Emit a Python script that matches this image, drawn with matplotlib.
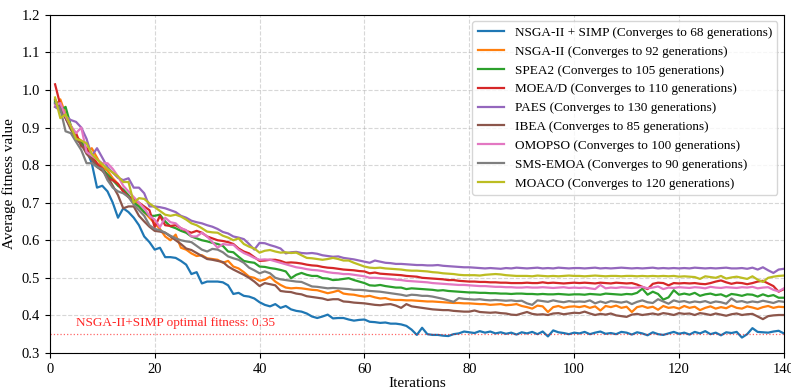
import numpy as np
import matplotlib
matplotlib.use("Agg")
import matplotlib.pyplot as plt

plt.rcParams['font.family'] = ['Liberation Serif', 'DejaVu Serif']

# iterations 1..140
iterations = list(range(1, 141))

nsga2_simp = [
    0.965, 0.945, 0.93, 0.90, 0.875, 0.855, 0.84, 0.805, 0.74, 0.745,
    0.73, 0.70, 0.66, 0.685, 0.675, 0.66, 0.64, 0.61, 0.595, 0.575,
    0.58, 0.555, 0.555, 0.553, 0.545, 0.535, 0.51, 0.515, 0.485, 0.49,
    0.49, 0.49, 0.488, 0.48, 0.457, 0.46, 0.452, 0.45, 0.445, 0.435,
    0.428, 0.424, 0.43, 0.42, 0.425, 0.416, 0.412, 0.41, 0.405, 0.397,
    0.393, 0.397, 0.402, 0.392, 0.393, 0.393, 0.389, 0.386, 0.388, 0.389,
    0.383, 0.382, 0.38, 0.381, 0.378, 0.378, 0.376, 0.372, 0.362, 0.348,
    0.367, 0.35, 0.348, 0.348, 0.346, 0.345, 0.35, 0.352, 0.357, 0.355,
    0.353, 0.358, 0.354, 0.357, 0.352, 0.355, 0.351, 0.354, 0.349, 0.355,
    0.352, 0.356, 0.35, 0.357, 0.344, 0.36, 0.355, 0.353, 0.35, 0.354,
    0.352, 0.356, 0.35, 0.354, 0.357, 0.351, 0.353, 0.35, 0.356, 0.354,
    0.349, 0.355, 0.352, 0.347, 0.355, 0.35, 0.348, 0.352, 0.356, 0.351,
    0.354, 0.349, 0.356, 0.352, 0.358, 0.35, 0.354, 0.347, 0.355, 0.353,
    0.356, 0.341, 0.35, 0.366, 0.356, 0.355, 0.354, 0.357, 0.359, 0.352,
]

nsga2 = [
    0.955, 0.975, 0.935, 0.905, 0.875, 0.865, 0.835, 0.845, 0.82, 0.795,
    0.785, 0.765, 0.75, 0.73, 0.715, 0.705, 0.69, 0.675, 0.66, 0.645,
    0.63, 0.61, 0.60, 0.615, 0.58, 0.575, 0.565, 0.558, 0.56, 0.552,
    0.55, 0.548, 0.54, 0.545, 0.53, 0.525, 0.515, 0.503, 0.5, 0.492,
    0.495, 0.503, 0.49, 0.481, 0.474, 0.472, 0.473, 0.472, 0.47, 0.468,
    0.467, 0.463, 0.459, 0.462, 0.466, 0.458, 0.456, 0.455, 0.452, 0.45,
    0.452, 0.448, 0.445, 0.446, 0.442, 0.441, 0.441, 0.44, 0.44, 0.439,
    0.438, 0.437, 0.437, 0.436, 0.435, 0.434, 0.433, 0.433, 0.432, 0.432,
    0.431, 0.43, 0.43, 0.428, 0.429, 0.43, 0.427, 0.428, 0.43, 0.425,
    0.422, 0.418, 0.426, 0.424, 0.409, 0.422, 0.425, 0.42, 0.423, 0.424,
    0.422, 0.425, 0.42, 0.424, 0.413, 0.425, 0.422, 0.426, 0.42, 0.423,
    0.409, 0.422, 0.425, 0.42, 0.423, 0.415, 0.425, 0.42, 0.422, 0.418,
    0.425, 0.42, 0.423, 0.414, 0.42, 0.424, 0.418, 0.422, 0.419, 0.426,
    0.42, 0.418, 0.424, 0.421, 0.417, 0.422, 0.425, 0.42, 0.423, 0.422,
]

spea2 = [
    0.97, 0.945, 0.955, 0.905, 0.87, 0.86, 0.845, 0.82, 0.80, 0.79,
    0.775, 0.76, 0.745, 0.735, 0.72, 0.70, 0.69, 0.675, 0.665, 0.665,
    0.668, 0.65, 0.637, 0.632, 0.625, 0.62, 0.61, 0.605, 0.60, 0.597,
    0.593, 0.59, 0.585, 0.57, 0.568, 0.556, 0.545, 0.542, 0.54, 0.53,
    0.529, 0.526, 0.524, 0.521, 0.517, 0.499, 0.508, 0.513, 0.508, 0.505,
    0.505, 0.499, 0.498, 0.494, 0.495, 0.497, 0.499, 0.494, 0.49, 0.486,
    0.48, 0.479, 0.481, 0.478, 0.476, 0.474, 0.474, 0.47, 0.472, 0.471,
    0.47, 0.469, 0.468, 0.466, 0.467, 0.465, 0.464, 0.463, 0.462, 0.461,
    0.461, 0.46, 0.46, 0.459, 0.459, 0.458, 0.458, 0.457, 0.458, 0.458,
    0.457, 0.457, 0.456, 0.457, 0.456, 0.456, 0.457, 0.456, 0.455, 0.456,
    0.456, 0.455, 0.457, 0.456, 0.455, 0.458, 0.457, 0.456, 0.455, 0.457,
    0.456, 0.46, 0.471, 0.455, 0.463, 0.457, 0.442, 0.448, 0.467, 0.455,
    0.458, 0.455, 0.46, 0.452, 0.456, 0.458, 0.454, 0.456, 0.45, 0.457,
    0.455, 0.452, 0.456, 0.455, 0.45, 0.456, 0.451, 0.454, 0.447, 0.447,
]

moead = [
    1.015, 0.96, 0.925, 0.90, 0.885, 0.85, 0.845, 0.825, 0.805, 0.79,
    0.765, 0.76, 0.75, 0.73, 0.715, 0.71, 0.70, 0.69, 0.68, 0.635,
    0.665, 0.64, 0.638, 0.64, 0.632, 0.625, 0.62, 0.625, 0.62, 0.61,
    0.605, 0.60, 0.598, 0.595, 0.59, 0.578, 0.57, 0.565, 0.555, 0.545,
    0.546, 0.548, 0.548, 0.545, 0.54, 0.541, 0.54, 0.538, 0.535, 0.533,
    0.532, 0.529, 0.527, 0.526, 0.524, 0.522, 0.521, 0.52, 0.518, 0.517,
    0.512, 0.514, 0.511, 0.51, 0.509, 0.508, 0.507, 0.505, 0.504, 0.503,
    0.5, 0.499, 0.498, 0.497, 0.496, 0.494, 0.494, 0.492, 0.491, 0.49,
    0.49, 0.489, 0.489, 0.488, 0.488, 0.487, 0.487, 0.486, 0.486, 0.486,
    0.487, 0.486, 0.486, 0.488, 0.486, 0.487, 0.486, 0.485, 0.486, 0.487,
    0.486, 0.487, 0.486, 0.485, 0.487, 0.486, 0.485, 0.487, 0.486, 0.485,
    0.486, 0.482, 0.476, 0.47, 0.484, 0.487, 0.486, 0.48, 0.486, 0.485,
    0.486, 0.485, 0.486, 0.484, 0.483, 0.486, 0.49, 0.493, 0.488, 0.484,
    0.487, 0.486, 0.483, 0.486, 0.49, 0.492, 0.485, 0.478, 0.463, 0.47,
]

paes = [
    0.955, 0.945, 0.93, 0.92, 0.915, 0.90, 0.87, 0.825, 0.845, 0.82,
    0.795, 0.78, 0.766, 0.76, 0.765, 0.74, 0.74, 0.725, 0.69, 0.69,
    0.688, 0.685, 0.68, 0.675, 0.665, 0.66, 0.652, 0.648, 0.645, 0.64,
    0.636, 0.63, 0.622, 0.618, 0.61, 0.607, 0.603, 0.59, 0.575, 0.593,
    0.592, 0.587, 0.583, 0.578, 0.565, 0.568, 0.569, 0.566, 0.565, 0.566,
    0.564, 0.56, 0.558, 0.556, 0.557, 0.553, 0.551, 0.549, 0.546, 0.543,
    0.54, 0.546, 0.543, 0.54, 0.539, 0.537, 0.537, 0.536, 0.535, 0.534,
    0.534, 0.533, 0.533, 0.534, 0.532, 0.531, 0.53, 0.529, 0.528, 0.528,
    0.527, 0.526, 0.525, 0.526, 0.525, 0.524, 0.526, 0.525, 0.527, 0.526,
    0.525, 0.526, 0.527, 0.525, 0.526, 0.525, 0.527, 0.526, 0.525, 0.526,
    0.526, 0.525, 0.526, 0.527, 0.525, 0.526, 0.525, 0.526, 0.527, 0.526,
    0.525, 0.526, 0.525, 0.526, 0.527, 0.525, 0.526, 0.525, 0.526, 0.525,
    0.526, 0.525, 0.527, 0.526, 0.525, 0.526, 0.525, 0.526, 0.527, 0.525,
    0.525, 0.526, 0.524, 0.527, 0.522, 0.528, 0.52, 0.513, 0.522, 0.524,
]

ibea = [
    0.975, 0.95, 0.925, 0.895, 0.87, 0.855, 0.83, 0.815, 0.795, 0.785,
    0.77, 0.745, 0.72, 0.685, 0.69, 0.69, 0.665, 0.65, 0.636, 0.625,
    0.623, 0.62, 0.61, 0.6, 0.59, 0.578, 0.574, 0.566, 0.558, 0.55,
    0.548, 0.545, 0.542, 0.53, 0.522, 0.515, 0.508, 0.5, 0.49, 0.478,
    0.486, 0.483, 0.48, 0.465, 0.463, 0.462, 0.458, 0.456, 0.451, 0.449,
    0.447, 0.445, 0.441, 0.443, 0.443, 0.437, 0.436, 0.434, 0.433, 0.432,
    0.43, 0.428, 0.427, 0.429, 0.43, 0.426, 0.42, 0.43, 0.424, 0.422,
    0.42, 0.418, 0.416, 0.415, 0.414, 0.414, 0.412, 0.411, 0.41, 0.41,
    0.413, 0.409, 0.408, 0.407, 0.408, 0.406, 0.405, 0.402, 0.401, 0.405,
    0.409, 0.404, 0.402, 0.403, 0.401, 0.405, 0.406, 0.403, 0.405, 0.407,
    0.406, 0.41, 0.405, 0.401, 0.404, 0.402, 0.405, 0.4, 0.398, 0.396,
    0.402, 0.404, 0.401, 0.403, 0.405, 0.402, 0.406, 0.404, 0.401, 0.406,
    0.404, 0.405, 0.401, 0.406, 0.404, 0.401, 0.405, 0.402, 0.399, 0.403,
    0.405, 0.401, 0.403, 0.404, 0.397, 0.39, 0.398, 0.4, 0.401, 0.401,
]

omopso = [
    0.96, 0.965, 0.93, 0.905, 0.885, 0.9, 0.835, 0.825, 0.815, 0.805,
    0.805, 0.79, 0.77, 0.745, 0.73, 0.715, 0.7, 0.685, 0.665, 0.655,
    0.635, 0.66, 0.648, 0.645, 0.632, 0.627, 0.61, 0.61, 0.62, 0.61,
    0.595, 0.58, 0.59, 0.588, 0.588, 0.575, 0.566, 0.56, 0.553, 0.548,
    0.549, 0.548, 0.544, 0.54, 0.536, 0.532, 0.528, 0.526, 0.523, 0.521,
    0.52, 0.518, 0.515, 0.513, 0.512, 0.51, 0.51, 0.508, 0.506, 0.504,
    0.5, 0.5, 0.499, 0.498, 0.497, 0.495, 0.494, 0.492, 0.491, 0.49,
    0.489, 0.488, 0.486, 0.485, 0.484, 0.483, 0.482, 0.481, 0.481, 0.48,
    0.479, 0.478, 0.478, 0.477, 0.476, 0.476, 0.475, 0.475, 0.474, 0.474,
    0.475, 0.474, 0.474, 0.475, 0.474, 0.473, 0.474, 0.475, 0.473, 0.474,
    0.473, 0.474, 0.472, 0.47, 0.481, 0.472, 0.474, 0.473, 0.475, 0.474,
    0.473, 0.474, 0.476, 0.472, 0.474, 0.477, 0.47, 0.474, 0.473, 0.475,
    0.474, 0.473, 0.475, 0.474, 0.472, 0.476, 0.474, 0.473, 0.475, 0.474,
    0.473, 0.475, 0.474, 0.476, 0.472, 0.474, 0.475, 0.468, 0.464, 0.472,
]

sms_emoa = [
    0.965, 0.95, 0.89, 0.885, 0.862, 0.84, 0.805, 0.805, 0.795, 0.79,
    0.76, 0.74, 0.73, 0.725, 0.715, 0.695, 0.68, 0.665, 0.64, 0.63,
    0.627, 0.62, 0.612, 0.605, 0.6, 0.597, 0.595, 0.585, 0.575, 0.57,
    0.577, 0.575, 0.568, 0.557, 0.552, 0.548, 0.54, 0.527, 0.52, 0.512,
    0.517, 0.512, 0.5, 0.496, 0.494, 0.492, 0.49, 0.489, 0.483, 0.477,
    0.476, 0.474, 0.472, 0.473, 0.472, 0.471, 0.47, 0.468, 0.468, 0.467,
    0.465, 0.464, 0.463, 0.461, 0.459, 0.457, 0.455, 0.452, 0.455, 0.454,
    0.452, 0.452, 0.45, 0.447, 0.444, 0.44, 0.436, 0.446, 0.444, 0.443,
    0.442, 0.443, 0.441, 0.44, 0.441, 0.44, 0.439, 0.44, 0.438, 0.439,
    0.432, 0.428, 0.44, 0.438, 0.436, 0.44, 0.437, 0.435, 0.438, 0.436,
    0.437, 0.436, 0.44, 0.432, 0.437, 0.433, 0.438, 0.436, 0.434, 0.437,
    0.43, 0.436, 0.44, 0.435, 0.433, 0.443, 0.437, 0.431, 0.44, 0.436,
    0.438, 0.434, 0.437, 0.435, 0.438, 0.433, 0.437, 0.435, 0.431, 0.445,
    0.436, 0.438, 0.434, 0.437, 0.435, 0.439, 0.436, 0.433, 0.438, 0.436,
]

moaco = [
    0.98, 0.925, 0.935, 0.903, 0.87, 0.865, 0.858, 0.83, 0.815, 0.803,
    0.79, 0.78, 0.77, 0.755, 0.755, 0.7, 0.712, 0.71, 0.698, 0.688,
    0.678, 0.668, 0.665, 0.668, 0.663, 0.655, 0.645, 0.64, 0.632, 0.623,
    0.621, 0.62, 0.612, 0.607, 0.6, 0.605, 0.59, 0.583, 0.578, 0.567,
    0.572, 0.574, 0.57, 0.567, 0.568, 0.566, 0.567, 0.56, 0.553, 0.552,
    0.55, 0.548, 0.55, 0.553, 0.55, 0.546, 0.546, 0.54, 0.535, 0.53,
    0.527, 0.526, 0.527, 0.525, 0.524, 0.523, 0.522, 0.52, 0.519, 0.519,
    0.518, 0.517, 0.515, 0.514, 0.512, 0.511, 0.51, 0.508, 0.507, 0.507,
    0.507, 0.506, 0.508, 0.509, 0.51, 0.509, 0.507, 0.506, 0.505, 0.505,
    0.505, 0.504, 0.506, 0.505, 0.504, 0.505, 0.504, 0.505, 0.506, 0.505,
    0.505, 0.504, 0.505, 0.506, 0.505, 0.504, 0.505, 0.505, 0.504, 0.505,
    0.505, 0.504, 0.505, 0.504, 0.505, 0.504, 0.505, 0.504, 0.505, 0.503,
    0.504, 0.503, 0.502, 0.497, 0.504, 0.502, 0.5, 0.505, 0.498, 0.501,
    0.503, 0.5, 0.497, 0.504, 0.495, 0.489, 0.5, 0.503, 0.505, 0.506,
]

series = [nsga2_simp, nsga2, spea2, moead, paes, ibea, omopso, sms_emoa, moaco]
labels = [
    'NSGA-II + SIMP (Converges to 68 generations)',
    'NSGA-II (Converges to 92 generations)',
    'SPEA2 (Converges to 105 generations)',
    'MOEA/D (Converges to 110 generations)',
    'PAES (Converges to 130 generations)',
    'IBEA (Converges to 85 generations)',
    'OMOPSO (Converges to 100 generations)',
    'SMS-EMOA (Converges to 90 generations)',
    'MOACO (Converges to 120 generations)',
]
optimal_fitness = 0.35

fig = plt.figure(figsize=(7.91, 3.9), dpi=100)
ax = fig.add_axes([0.063, 0.095, 0.928, 0.867])

for vals, lab in zip(series, labels):
    ax.plot(iterations, vals, linewidth=1.6, label=lab)

# reference line for the best result
ax.axhline(y=optimal_fitness, color='red', linestyle=':', linewidth=0.9, alpha=0.6)
ax.text(5, optimal_fitness + 0.022, f'NSGA-II+SIMP optimal fitness: {optimal_fitness}',
        color='red', fontsize=9.5, alpha=0.85)

ax.set_xlim(0, 140)
ax.set_ylim(0.3, 1.2)
ax.set_xticks(np.arange(0, 141, 20))
ax.set_yticks(np.arange(0.3, 1.21, 0.1))
ax.tick_params(labelsize=10.5)
ax.set_xlabel('Iterations', fontsize=11, labelpad=1)
ax.set_ylabel('Average fitness value', fontsize=11)
ax.grid(True, linestyle='--', alpha=0.5)
ax.legend(loc='upper right', fontsize=9.5)

fig.savefig('out.png', dpi=100)
